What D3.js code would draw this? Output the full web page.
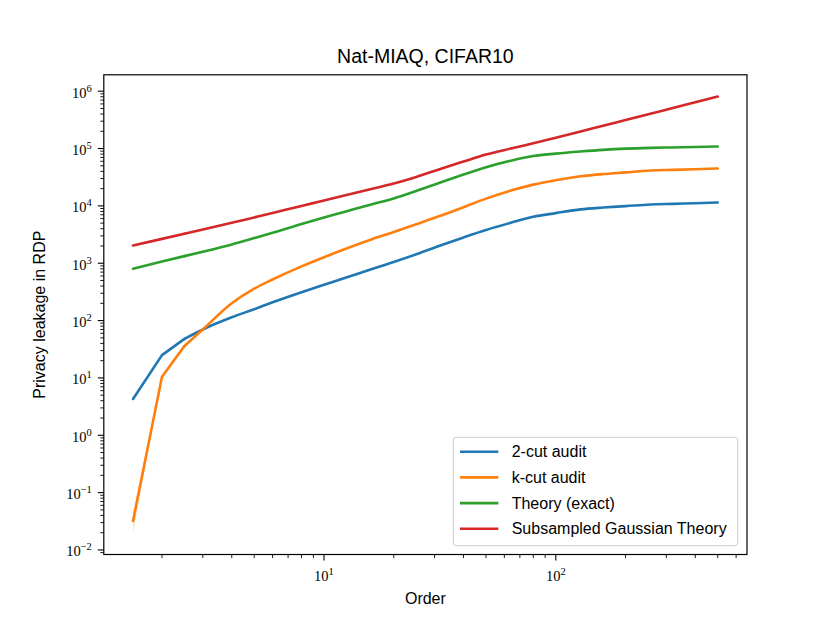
<!DOCTYPE html>
<html lang="en">
<head>
<meta charset="UTF-8" />
<title>Nat-MIAQ, CIFAR10</title>
<script src="https://cdn.jsdelivr.net/npm/d3@7"></script>
<style>
  body { margin: 0; background: #fff; }
  text { font-family: "Liberation Sans", Arial, sans-serif; fill: #000; }
  .tick-label { font-family: "Liberation Serif", "DejaVu Serif", serif; }
</style>
</head>
<body>
<div id="chart"></div>
<script>
// Rényi orders on the x axis
const orders = [1.5, 2, 2.5, 3, 4, 5, 6, 8, 10, 12, 16, 20, 25, 32, 40, 50, 64, 80, 100, 128, 160, 200, 256, 320, 400, 500];

// privacy leakage in RDP
const twoCut = [4.3, 25, 48, 70, 114, 158, 208, 312, 422, 535, 785, 1050, 1430, 2060, 2820, 3800, 5080, 6450, 7480, 8700, 9360, 9900, 10570, 10860, 11140, 11450];
const kCut = [0.032, 10.5, 36, 70, 200, 360, 520, 880, 1275, 1700, 2600, 3500, 4780, 6780, 9480, 13400, 18500, 23500, 28100, 32800, 35900, 38400, 41400, 42500, 43600, 44800];
const kCutLow = [0.020, 10.0, 35, 68, 194, 353, 510, 865, 1255, 1680, 2570, 3460, 4720, 6700, 9380, 13250, 18300, 23250, 27800, 32450, 35500, 38000, 41000, 42100, 43200, 44400];
const kCutHigh = [0.045, 11.0, 37, 72, 206, 367, 530, 895, 1295, 1720, 2630, 3540, 4840, 6860, 9580, 13550, 18700, 23750, 28400, 33150, 36300, 38800, 41800, 42900, 44000, 45200];
const theoryExact = [800, 1070, 1330, 1590, 2130, 2750, 3400, 4850, 6300, 7700, 10600, 13500, 18200, 25900, 35200, 47300, 61400, 74000, 81500, 88700, 94800, 99500, 102800, 104600, 106400, 108400];
const subsampledGaussian = [2040, 2660, 3270, 3865, 5060, 6300, 7530, 10000, 12400, 14850, 19700, 24500, 32000, 44600, 59300, 78400, 100000, 123600, 154000, 198000, 250000, 314000, 405000, 509000, 641000, 805000];

const seriesNames = ["2-cut audit", "k-cut audit", "Theory (exact)", "Subsampled Gaussian Theory"];
const seriesColors = ["#1f77b4", "#ff7f0e", "#2ca02c", "#d62728"];

const xMajorTicks = [10, 100];
const yMajorExponents = [-2, -1, 0, 1, 2, 3, 4, 5, 6];

const W = 830, H = 623;
const margin = {top: 74.8, right: 83, bottom: 68.5, left: 103.8};
const straightUntil = 2; // first segments are drawn straight, the rest smooth

const svg = d3.select("#chart").append("svg")
  .attr("width", W).attr("height", H);

// matplotlib style 5% padding in log space
function logDomain(vals) {
  const lo = Math.log10(d3.min(vals)), hi = Math.log10(d3.max(vals));
  const pad = 0.05 * (hi - lo);
  return [Math.pow(10, lo - pad), Math.pow(10, hi + pad)];
}

const x = d3.scaleLog()
  .domain(logDomain(orders))
  .range([margin.left, W - margin.right]);

const y = d3.scaleLog()
  .domain(logDomain([].concat(twoCut, kCutLow, kCutHigh, theoryExact, subsampledGaussian)))
  .range([H - margin.bottom, margin.top]);

const x0 = margin.left, x1 = W - margin.right;
const y0 = H - margin.bottom, y1 = margin.top;

const plot = svg.append("g");

// orange spread band
const bandData = orders.map((o, i) => [o, kCutLow[i], kCutHigh[i]]);
const area = d3.area().x(d => x(d[0])).y0(d => y(d[1])).y1(d => y(d[2]));
plot.append("path")
  .datum(bandData.slice(0, straightUntil + 1))
  .attr("fill", seriesColors[1]).attr("fill-opacity", 0.25)
  .attr("d", area);
plot.append("path")
  .datum(bandData.slice(straightUntil))
  .attr("fill", seriesColors[1]).attr("fill-opacity", 0.25)
  .attr("d", area.curve(d3.curveMonotoneX));

const straight = d3.line().x(d => x(d[0])).y(d => y(d[1]));
const smooth = d3.line().curve(d3.curveMonotoneX).x(d => x(d[0])).y(d => y(d[1]));
[twoCut, kCut, theoryExact, subsampledGaussian].forEach((vals, i) => {
  const pts = orders.map((o, j) => [o, vals[j]]);
  [[straight, pts.slice(0, straightUntil + 1)], [smooth, pts.slice(straightUntil)]]
    .forEach(([gen, part]) => {
      plot.append("path")
        .datum(part)
        .attr("fill", "none")
        .attr("stroke", seriesColors[i])
        .attr("stroke-width", 2.6)
        .attr("stroke-linejoin", "round")
        .attr("stroke-linecap", "round")
        .attr("d", gen);
    });
});

// ticks
const [xd0, xd1] = x.domain();
const xMinor = [];
for (let e = 0; e <= 3; e++) for (let k = 2; k <= 9; k++) {
  const v = k * Math.pow(10, e);
  if (v >= xd0 && v <= xd1) xMinor.push(v);
}
const [yd0, yd1] = y.domain();
const yMinor = [];
for (let e = -3; e <= 6; e++) for (let k = 2; k <= 9; k++) {
  const v = k * Math.pow(10, e);
  if (v >= yd0 && v <= yd1) yMinor.push(v);
}

const ticks = svg.append("g").attr("stroke", "#000");
ticks.selectAll(".xmin").data(xMinor).enter().append("line")
  .attr("x1", d => x(d)).attr("x2", d => x(d))
  .attr("y1", y0).attr("y2", y0 + 3.5).attr("stroke-width", 0.9);
ticks.selectAll(".xmaj").data(xMajorTicks).enter().append("line")
  .attr("x1", d => x(d)).attr("x2", d => x(d))
  .attr("y1", y0).attr("y2", y0 + 6).attr("stroke-width", 1.1);
ticks.selectAll(".ymin").data(yMinor).enter().append("line")
  .attr("y1", d => y(d)).attr("y2", d => y(d))
  .attr("x1", x0).attr("x2", x0 - 3.5).attr("stroke-width", 0.9);
ticks.selectAll(".ymaj").data(yMajorExponents).enter().append("line")
  .attr("y1", d => y(Math.pow(10, d))).attr("y2", d => y(Math.pow(10, d)))
  .attr("x1", x0).attr("x2", x0 - 6).attr("stroke-width", 1.1);

function powerLabel(sel, exp) {
  sel.append("tspan").attr("font-size", "14.5px").text("10");
  sel.append("tspan").attr("font-size", "10.5px").attr("dy", -6)
    .text(exp < 0 ? "\u2212" + (-exp) : String(exp));
}

xMajorTicks.forEach(v => {
  const t = svg.append("text").attr("class", "tick-label")
    .attr("x", x(v)).attr("y", y0 + 26).attr("text-anchor", "middle");
  powerLabel(t, Math.round(Math.log10(v)));
});
yMajorExponents.forEach(e => {
  const t = svg.append("text").attr("class", "tick-label")
    .attr("x", x0 - 12).attr("y", y(Math.pow(10, e)) + 6.5).attr("text-anchor", "end");
  powerLabel(t, e);
});

// frame
svg.append("rect")
  .attr("x", x0).attr("y", y1).attr("width", x1 - x0).attr("height", y0 - y1)
  .attr("fill", "none").attr("stroke", "#000").attr("stroke-width", 1.2);

// labels
svg.append("text").attr("x", (x0 + x1) / 2).attr("y", 63.3)
  .attr("text-anchor", "middle").attr("font-size", "19.5px")
  .text("Nat-MIAQ, CIFAR10");
svg.append("text").attr("x", (x0 + x1) / 2).attr("y", 604)
  .attr("text-anchor", "middle").attr("font-size", "16px")
  .text("Order");
svg.append("text")
  .attr("transform", `translate(45,${(y0 + y1) / 2}) rotate(-90)`)
  .attr("text-anchor", "middle").attr("font-size", "16px")
  .text("Privacy leakage in RDP");

// legend
const legend = svg.append("g").attr("transform", "translate(453.3,437.3)");
legend.append("rect")
  .attr("width", 284.4).attr("height", 108.4).attr("rx", 3)
  .attr("fill", "#fff").attr("fill-opacity", 0.8)
  .attr("stroke", "#cccccc").attr("stroke-width", 1);
seriesNames.forEach((name, i) => {
  const ry = 14.4 + i * 25.7;
  legend.append("line")
    .attr("x1", 6.7).attr("x2", 45).attr("y1", ry).attr("y2", ry)
    .attr("stroke", seriesColors[i]).attr("stroke-width", 2.6);
  legend.append("text").attr("x", 58.4).attr("y", ry + 5.6)
    .attr("font-size", "16px").text(name);
});
</script>
</body>
</html>
